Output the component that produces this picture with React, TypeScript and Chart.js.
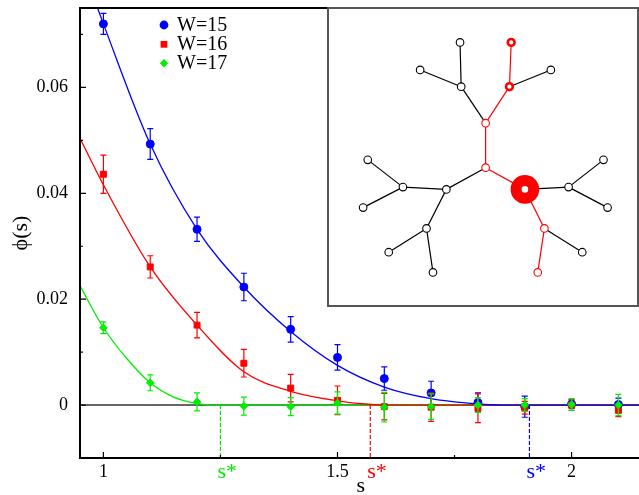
import React, { useEffect, useRef } from 'react';
import { Chart, registerables } from 'chart.js';

Chart.register(...registerables);

// ---------- main plot data ----------
const sValues = [1.0, 1.1, 1.2, 1.3, 1.4, 1.5, 1.6, 1.7, 1.8, 1.9, 2.0, 2.1];

const phiW15 = [0.0720, 0.0493, 0.0332, 0.0223, 0.0143, 0.0090, 0.0050, 0.0023, 0.0005, -0.0003, 0.0002, 0.0001];
const errW15 = [0.0020, 0.0029, 0.0023, 0.0026, 0.0024, 0.0024, 0.0022, 0.0022, 0.0018, 0.0020, 0.0008, 0.0012];

const phiW16 = [0.0436, 0.0261, 0.0151, 0.0079, 0.0032, 0.0009, -0.0003, -0.0004, -0.0006, -0.0005, 0.0000, -0.0010];
const errW16 = [0.0036, 0.0021, 0.0024, 0.0026, 0.0026, 0.0027, 0.0025, 0.0027, 0.0027, 0.0012, 0.0010, 0.0012];

const phiW17 = [0.0146, 0.0042, 0.0006, -0.0002, -0.0003, 0.0004, -0.0004, -0.0003, 0.0000, 0.0000, 0.0001, 0.0000];
const errW17 = [0.0011, 0.0015, 0.0017, 0.0017, 0.0017, 0.0021, 0.0028, 0.0024, 0.0014, 0.0012, 0.0011, 0.0020];

// fitted curves
const fitS15 = [0.95, 1.0, 1.1, 1.2, 1.3, 1.4, 1.5, 1.6, 1.7, 1.8, 1.85, 2.2];
const fitW15 = [0.0840, 0.0720, 0.0493, 0.0332, 0.0223, 0.0139, 0.0075, 0.0034, 0.0012, 0.0002, 0.0, 0.0];
const fitS16 = [0.95, 1.0, 1.1, 1.2, 1.3, 1.4, 1.5, 1.56, 1.6, 2.2];
const fitW16 = [0.0504, 0.0416, 0.0261, 0.0151, 0.0063, 0.0026, 0.0008, 0.0002, 0.0, 0.0];
const fitS17 = [0.95, 1.0, 1.05, 1.1, 1.15, 1.2, 1.23, 2.2];
const fitW17 = [0.0225, 0.0146, 0.0088, 0.0042, 0.0015, 0.0003, 0.0, 0.0];

const seriesNames = ['W=15', 'W=16', 'W=17'];
const sStar = [1.91, 1.57, 1.25];

const xMin = 0.95;
const xMax = 2.15;
const yMin = -0.01;
const yMax = 0.075;
const xTickValues = [1, 1.5, 2];
const xTickLabels = ['1', '1.5', '2'];
const xMinorTicks = [1.25, 1.75];
const yTickValues = [0, 0.02, 0.04, 0.06];
const yTickLabels = ['0', '0.02', '0.04', '0.06'];
const yMinorTicks = [0.01, 0.03, 0.05, 0.07];

// ---------- inset (tree) data ----------
const nodeX = [131.7, 86, 133, 190.3, 188.3, 235.7, 161, 161, 116, 66.3, 26, 20.7, 93.3, 50, 100.7, 206, 256, 296, 300.7, 228.3, 271.7, 220.7];
const nodeY = [25, 56.7, 76, 25, 76, 56.7, 118, 169.3, 194.3, 191.7, 160.3, 215.3, 239.3, 266.7, 290, 194.3, 191.7, 160.3, 215.3, 239.3, 266.7, 290];
const blackEdges = [[2, 0], [2, 1], [2, 6], [4, 5], [7, 8], [8, 9], [9, 10], [9, 11], [8, 12], [12, 13], [12, 14], [15, 16], [16, 17], [16, 18], [19, 20]];
const redEdges = [[3, 4], [4, 6], [6, 7], [7, 15], [15, 19], [19, 21]];
const plainNodes = [0, 1, 2, 5, 8, 9, 10, 11, 12, 13, 14, 16, 17, 18, 20];
const redNodes = [6, 7, 19, 21];
const thickRedNodes = [3, 4];
const rootNodes = [15];

const BLUE = '#0000ff';
const RED = '#ff0000';
const GREEN = '#00ee00';
const COLORS = [BLUE, RED, GREEN];
const FONT = "'Liberation Serif', 'Times New Roman', serif";

const pts = (xs: number[], ys: number[]) => xs.map((x, i) => ({ x, y: ys[i] }));

const errorBarPlugin = {
  id: 'errorBars',
  beforeDatasetDraw(chart: any, args: any) {
    const ds = chart.data.datasets[args.index];
    if (!ds.errors) return;
    const { ctx } = chart;
    const x = chart.scales.x;
    const y = chart.scales.y;
    ctx.save();
    ctx.strokeStyle = ds.borderColor;
    ctx.lineWidth = 1.2;
    ds.data.forEach((p: any, i: number) => {
      const px = x.getPixelForValue(p.x);
      const y1 = y.getPixelForValue(p.y + ds.errors[i]);
      const y2 = y.getPixelForValue(p.y - ds.errors[i]);
      ctx.beginPath();
      ctx.moveTo(px, y1);
      ctx.lineTo(px, y2);
      ctx.moveTo(px - 3, y1);
      ctx.lineTo(px + 3, y1);
      ctx.moveTo(px - 3, y2);
      ctx.lineTo(px + 3, y2);
      ctx.stroke();
    });
    ctx.restore();
  },
};

const framePlugin = {
  id: 'frameAndExtras',
  afterDraw(chart: any) {
    const { ctx, chartArea: a } = chart;
    const x = chart.scales.x;
    const y = chart.scales.y;
    ctx.save();
    // frame
    ctx.strokeStyle = '#000';
    ctx.lineWidth = 2;
    ctx.strokeRect(a.left, a.top, a.right - a.left, a.bottom - a.top);
    // inward ticks
    ctx.lineWidth = 1.2;
    ctx.beginPath();
    xTickValues.forEach((v) => { const px = x.getPixelForValue(v); ctx.moveTo(px, a.bottom); ctx.lineTo(px, a.bottom - 6); });
    xMinorTicks.forEach((v) => { const px = x.getPixelForValue(v); ctx.moveTo(px, a.bottom); ctx.lineTo(px, a.bottom - 3); });
    yTickValues.forEach((v) => { const py = y.getPixelForValue(v); ctx.moveTo(a.left, py); ctx.lineTo(a.left + 6, py); });
    yMinorTicks.forEach((v) => { const py = y.getPixelForValue(v); ctx.moveTo(a.left, py); ctx.lineTo(a.left + 3, py); });
    ctx.stroke();
    // s* labels
    ctx.font = `22px ${FONT}`;
    ctx.textBaseline = 'alphabetic';
    ctx.textAlign = 'left';
    sStar.forEach((v, i) => {
      ctx.fillStyle = COLORS[i];
      ctx.fillText('s*', x.getPixelForValue(v) - 3, a.bottom + 20);
    });
    // legend
    const lx = 164;
    const ly = [25, 44.3, 63.3];
    ctx.font = `20px ${FONT}`;
    ctx.textBaseline = 'middle';
    seriesNames.forEach((name, i) => {
      ctx.fillStyle = COLORS[i];
      ctx.beginPath();
      if (i === 0) ctx.arc(lx, ly[i], 4.4, 0, Math.PI * 2);
      else if (i === 1) ctx.rect(lx - 3.4, ly[i] - 3.4, 6.8, 6.8);
      else { ctx.moveTo(lx - 4.2, ly[i]); ctx.lineTo(lx, ly[i] - 4.2); ctx.lineTo(lx + 4.2, ly[i]); ctx.lineTo(lx, ly[i] + 4.2); ctx.closePath(); }
      ctx.fill();
      ctx.fillStyle = '#000';
      ctx.fillText(name, lx + 13, ly[i] + 0.5);
    });
    ctx.restore();
  },
};

const insetFramePlugin = {
  id: 'insetFrame',
  beforeDraw(chart: any) {
    const { ctx, width, height } = chart;
    ctx.save();
    ctx.fillStyle = '#fff';
    ctx.fillRect(0, 0, width, height);
    ctx.restore();
  },
  afterDraw(chart: any) {
    const { ctx, width, height } = chart;
    ctx.save();
    ctx.strokeStyle = '#555';
    ctx.lineWidth = 2;
    ctx.strokeRect(1, 1, width - 2, height - 2);
    ctx.restore();
  },
};

const zeroPadding = (s: any) => {
  s.paddingTop = 0;
  s.paddingBottom = 0;
  s.paddingLeft = 0;
  s.paddingRight = 0;
};

function mainConfig(): any {
  const markers = [
    { data: pts(sValues, phiW15), errors: errW15, color: BLUE, style: 'circle', r: 4, order: 3 },
    { data: pts(sValues, phiW16), errors: errW16, color: RED, style: 'rect', r: 4.2, order: 2 },
    { data: pts(sValues, phiW17), errors: errW17, color: GREEN, style: 'rectRot', r: 3.8, order: 1 },
  ].map((m) => ({
    data: m.data,
    errors: m.errors,
    showLine: false,
    borderColor: m.color,
    backgroundColor: m.color,
    pointStyle: m.style,
    pointRadius: m.r,
    pointBorderWidth: 1,
    order: m.order,
  }));
  const fits = [
    { data: pts(fitS17, fitW17), color: GREEN, order: 9 },
    { data: pts(fitS16, fitW16), color: RED, order: 8 },
    { data: pts(fitS15, fitW15), color: BLUE, order: 7 },
  ].map((f) => ({
    data: f.data,
    showLine: true,
    borderColor: f.color,
    borderWidth: 1.3,
    pointRadius: 0,
    cubicInterpolationMode: 'monotone',
    order: f.order,
  }));
  const dashes = sStar.map((v, i) => ({
    data: [{ x: v, y: 0 }, { x: v, y: yMin }],
    showLine: true,
    borderColor: COLORS[i],
    borderWidth: 1.2,
    borderDash: [4, 2],
    pointRadius: 0,
    order: 6,
  }));
  const zero = {
    data: [{ x: xMin, y: 0 }, { x: xMax, y: 0 }],
    showLine: true,
    borderColor: '#666',
    borderWidth: 2,
    pointRadius: 0,
    order: 10,
  };
  return {
    type: 'scatter',
    data: { datasets: [zero, ...fits, ...dashes, ...markers] },
    plugins: [errorBarPlugin, framePlugin],
    options: {
      responsive: false,
      animation: false,
      events: [],
      layout: { padding: { top: 8, right: 0, left: 0, bottom: 0 } },
      plugins: { legend: { display: false }, tooltip: { enabled: false } },
      scales: {
        x: {
          type: 'linear',
          min: xMin,
          max: xMax,
          afterFit: (s: any) => { s.height = 37; zeroPadding(s); },
          afterBuildTicks: (s: any) => { s.ticks = xTickValues.map((v) => ({ value: v })); },
          grid: { display: false, drawTicks: false },
          border: { display: false },
          ticks: {
            autoSkip: false,
            maxRotation: 0,
            padding: 3,
            color: '#000',
            font: { family: FONT, size: 18 },
            callback: (_v: any, i: number) => xTickLabels[i],
          },
          title: {
            display: true,
            text: 's',
            color: '#000',
            font: { family: FONT, size: 22, lineHeight: 0.8 },
            padding: { top: 0, bottom: 0 },
          },
        },
        y: {
          type: 'linear',
          min: yMin,
          max: yMax,
          afterFit: (s: any) => { s.width = 80; zeroPadding(s); },
          afterBuildTicks: (s: any) => { s.ticks = yTickValues.map((v) => ({ value: v })); },
          grid: { display: false, drawTicks: false },
          border: { display: false },
          ticks: {
            autoSkip: false,
            padding: 12,
            color: '#000',
            font: { family: FONT, size: 18 },
            callback: (_v: any, i: number) => yTickLabels[i],
          },
          title: {
            display: true,
            text: 'ϕ(s)',
            color: '#000',
            font: { family: FONT, size: 22, lineHeight: 1.2 },
            padding: { top: 8, bottom: 0 },
          },
        },
      },
    },
  };
}

function insetConfig(): any {
  const node = (ids: number[]) => ids.map((i) => ({ x: nodeX[i], y: nodeY[i] }));
  const nodeSets = [
    { ids: rootNodes, color: RED, r: 8.8, bw: 11 },
    { ids: thickRedNodes, color: RED, r: 3.4, bw: 2.6 },
    { ids: redNodes, color: RED, r: 3.8, bw: 1.1 },
    { ids: plainNodes, color: '#000', r: 3.8, bw: 1.1 },
  ].map((n, k) => ({
    data: node(n.ids),
    showLine: false,
    pointRadius: n.r,
    pointBorderWidth: n.bw,
    borderColor: n.color,
    backgroundColor: '#fff',
    pointBackgroundColor: '#fff',
    pointBorderColor: n.color,
    order: k,
  }));
  const edgeSets = [
    ...redEdges.map((e) => ({ e, color: RED })),
    ...blackEdges.map((e) => ({ e, color: '#000' })),
  ].map(({ e, color }) => ({
    data: node(e),
    showLine: true,
    borderColor: color,
    borderWidth: 1.2,
    pointRadius: 0,
    order: 20,
  }));
  return {
    type: 'scatter',
    data: { datasets: [...nodeSets, ...edgeSets] },
    plugins: [insetFramePlugin],
    options: {
      responsive: false,
      animation: false,
      events: [],
      layout: { padding: 0 },
      plugins: { legend: { display: false }, tooltip: { enabled: false } },
      scales: {
        x: { type: 'linear', display: false, min: 2, max: 314 },
        y: { type: 'linear', display: false, min: 7, max: 307, reverse: true },
      },
    },
  };
}

export default function App() {
  const mainRef = useRef<HTMLCanvasElement>(null);
  const insetRef = useRef<HTMLCanvasElement>(null);
  useEffect(() => {
    const main = new Chart(mainRef.current as HTMLCanvasElement, mainConfig());
    const inset = new Chart(insetRef.current as HTMLCanvasElement, insetConfig());
    return () => {
      main.destroy();
      inset.destroy();
    };
  }, []);
  return (
    <div style={{ position: 'fixed', left: 0, top: 0, width: 639, height: 495, overflow: 'hidden', background: '#fff' }}>
      <canvas ref={mainRef} width={647} height={495} style={{ position: 'absolute', left: 0, top: 0, width: 647, height: 495 }} />
      <canvas ref={insetRef} width={312} height={300} style={{ position: 'absolute', left: 327, top: 7, width: 312, height: 300 }} />
    </div>
  );
}
